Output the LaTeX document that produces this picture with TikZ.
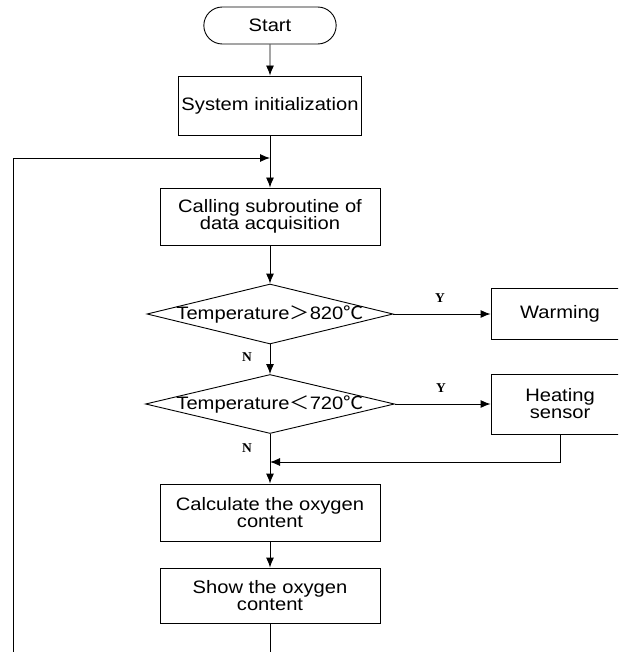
\documentclass[tikz,border=0pt]{standalone}
\usepackage{fontspec}
\setmainfont{Liberation Sans}[FakeStretch=1.12]
\newfontfamily\cjk{Noto Sans CJK SC}[FakeStretch=1.12]
\newfontfamily\ynfont{Liberation Serif}
\usepackage{tikz}
\usetikzlibrary{arrows.meta,shapes.geometric,shapes.misc}
\tikzstyle{terminal}=[rounded rectangle, draw, line width=0.9pt, minimum width=139pt, minimum height=37pt]
\tikzstyle{process}=[rectangle, draw, line width=0.9pt, minimum height=57pt, align=center, inner sep=0pt]
\tikzstyle{decision}=[diamond, draw, line width=0.9pt, minimum width=246pt, minimum height=60pt, inner sep=0pt]
\tikzstyle{yn}=[font=\ynfont\bfseries\fontsize{13.5}{13.5}\selectfont]
\tikzstyle{arrow}=[draw=black, line width=0.9pt, >={Latex[length=10pt,width=8pt]}]

\begin{document}
\begin{tikzpicture}[x=1pt, y=-1pt, font=\fontsize{18}{17}\selectfont]
		   \useasboundingbox (0,0) rectangle (618,652);
		   \clip (0,0) rectangle (618,652);
		   \begin{scope}
			   \node (start) at (270, 25.5)[terminal] {Start};
			   \node (init) at (270, 105.5)[process, minimum width=183pt, minimum height=59pt] {System initialization};
			   \node (call) at (270, 216.5)[process, minimum width=220pt] {Calling subroutine of\\data acquisition};
			   \node (d1) at (270, 314)[decision] {\makebox[0pt]{Temperature{\cjk ＞}820{\cjk ℃}}};
			   \node (warm) at (560, 314)[process, minimum width=138pt, minimum height=51pt] {Warming};
			   \node (d2) at (270, 404)[decision, minimum height=59pt, minimum width=249pt] {\makebox[0pt]{Temperature{\cjk ＜}720{\cjk ℃}}};
			   \node (heat) at (560, 404)[process, minimum width=138pt, minimum height=60pt] {Heating\\sensor};
			   \node (calc) at (270, 512.5)[process, minimum width=220pt] {Calculate the oxygen\\content};
			   \node (show) at (270, 595.5)[process, minimum width=220pt, minimum height=55pt] {Show the oxygen\\content};
			   \node (y1) at (440, 298)[yn] {Y};
			   \node (y2) at (441, 388)[yn] {Y};
			   \node (n1) at (247, 357)[yn] {N};
			   \node (n2) at (247, 448)[yn] {N};
			   \coordinate (j1) at (270, 158);
			   \coordinate (j2) at (270, 462);
			   \coordinate (lp) at (13, 158);
		   \end{scope}
		   \begin{scope}[arrow]
			   \path [->] (start) edge (init);
			   \path [->] (init) edge (call);
			   \path [->] (call) edge (d1);
			   \path [->] (d1) edge (warm);
			   \path [->] (d1) edge (d2);
			   \path [->] (d2) edge (heat);
			   \path [->] (d2) edge (calc);
			   \path [->] (calc) edge (show);
			   \draw [->] (heat.south) |- (j2);
			   \draw [->] (show.south) -- ++(0, 60) -| (lp) -- (j1);
		   \end{scope}
	   \end{tikzpicture}
\end{document}
